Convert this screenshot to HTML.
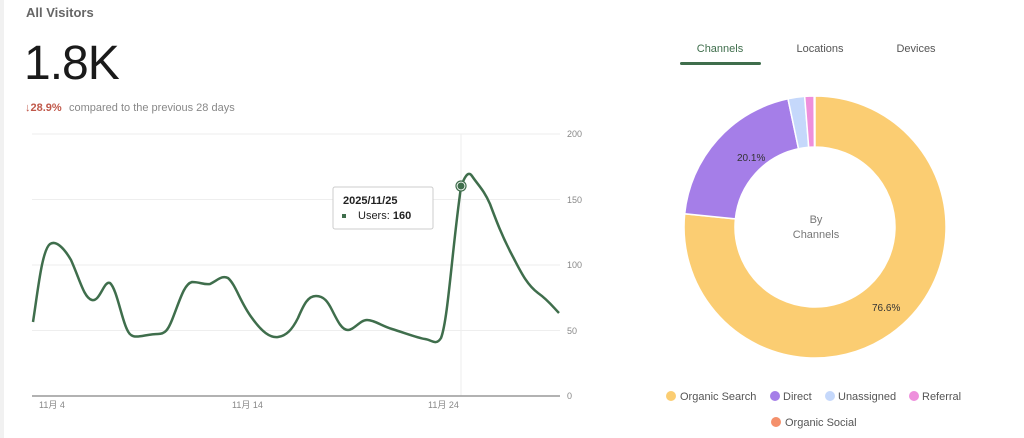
<!DOCTYPE html>
<html><head><meta charset="utf-8"><style>
html,body{margin:0;padding:0;background:#fff;}
body{width:1024px;height:438px;overflow:hidden;position:relative;font-family:"Liberation Sans",Arial,sans-serif;}
</style></head><body>
<svg width="1024" height="438" viewBox="0 0 1024 438" xmlns="http://www.w3.org/2000/svg" style="position:absolute;left:0;top:0;font-family:'Liberation Sans','Noto Sans CJK JP',sans-serif">
<rect x="0" y="0" width="4" height="438" fill="#f1f1f1"/>
<text x="26" y="17" font-size="13" font-weight="bold" fill="#666">All Visitors</text>
<text x="24" y="79" font-size="48" fill="#1a1a1a" letter-spacing="-1">1.8K</text>
<text x="25" y="111" font-size="11" fill="#c0584a" font-weight="bold">↓28.9%</text>
<text x="69" y="111" font-size="11" fill="#888">compared to the previous 28 days</text>
<g stroke="#eeeeee" stroke-width="1">
<line x1="32" y1="134" x2="560" y2="134"/>
<line x1="32" y1="199.5" x2="560" y2="199.5"/>
<line x1="32" y1="265" x2="560" y2="265"/>
<line x1="32" y1="330.5" x2="560" y2="330.5"/>
<line x1="461" y1="134" x2="461" y2="396"/>
</g>
<line x1="32" y1="396" x2="560" y2="396" stroke="#999" stroke-width="1.5"/>
<g font-size="9" fill="#888">
<text x="567" y="137">200</text><text x="567" y="203">150</text><text x="567" y="268">100</text><text x="567" y="334">50</text><text x="567" y="399">0</text>
<text x="39" y="408">11月 4</text><text x="232" y="408">11月 14</text><text x="428" y="408">11月 24</text>
</g>
<path d="M33,322 C38,290 42,250 50,244 C56,240 64,248 71,260 C80,280 84,298 92,300 C100,302 104,280 110,283 C118,290 123,330 131,335 C136,339 146,334 158,334 C165,334 168,330 172,320 C180,300 184,284 192,282 C200,282 204,285 210,284 C218,280 222,275 228,278 C236,285 240,302 252,318 C262,332 270,338 278,337 C286,336 292,330 298,318 C304,304 308,296 316,296 C324,296 328,302 332,310 C338,322 342,330 348,330 C354,330 360,320 367,320 C374,320 382,326 392,329 C405,333 418,338 425,339 C432,340 436,346 441,338 C448,320 452,250 461,187 C464,178 468,170 472,176 C478,185 484,190 490,204 C496,220 502,236 512,255 C520,270 526,284 538,293 C548,300 554,308 559,313" fill="none" stroke="#3f6e4c" stroke-width="2.5" stroke-linejoin="round"/>
<circle cx="461" cy="186" r="5" fill="#fff" stroke="#3f6e4c" stroke-width="1.2"/>
<circle cx="461" cy="186" r="3.5" fill="#3f6e4c"/>
<rect x="333" y="187" width="100" height="42" fill="#fff" stroke="#ccc" stroke-width="1" rx="2"/>
<text x="343" y="204" font-size="11" font-weight="bold" fill="#222">2025/11/25</text>
<rect x="342" y="214" width="4" height="4" fill="#3f6e4c"/>
<text x="358" y="219" font-size="11" fill="#222">Users: <tspan font-weight="bold">160</tspan></text>
<g font-size="11" fill="#555">
<text x="720" y="52" text-anchor="middle" fill="#3f6e4c">Channels</text>
<text x="820" y="52" text-anchor="middle">Locations</text>
<text x="916" y="52" text-anchor="middle">Devices</text>
</g>
<rect x="680" y="62" width="81" height="3" rx="1.5" fill="#3f6e4c"/>
<g stroke="#fff" stroke-width="1.5">
<path d="M815,96 A131,131 0 1 1 684.7,213.8 L735.4,218.9 A80,80 0 1 0 815,147 Z" fill="#fbcd72"/>
<path d="M684.7,213.8 A131,131 0 0 1 788,98.8 L798.5,148.7 A80,80 0 0 0 735.4,218.9 Z" fill="#a57ee8"/>
<path d="M788,98.8 A131,131 0 0 1 804.7,96.4 L808.7,147.2 A80,80 0 0 0 798.5,148.7 Z" fill="#c5d8fb"/>
<path d="M804.7,96.4 A131,131 0 0 1 814.1,96 L814.4,147 A80,80 0 0 0 808.7,147.2 Z" fill="#ee8fdc"/>
</g>
<text x="737" y="161" font-size="10" fill="#333">20.1%</text>
<text x="872" y="311" font-size="10" fill="#333">76.6%</text>
<text x="816" y="223" font-size="11" fill="#777" text-anchor="middle">By</text>
<text x="816" y="238" font-size="11" fill="#777" text-anchor="middle">Channels</text>
<g font-size="11" fill="#555">
<circle cx="671" cy="396" r="5" fill="#fbcd72"/><text x="680" y="400">Organic Search</text>
<circle cx="775" cy="396" r="5" fill="#a57ee8"/><text x="783" y="400">Direct</text>
<circle cx="830" cy="396" r="5" fill="#c5d8fb"/><text x="838" y="400">Unassigned</text>
<circle cx="914" cy="396" r="5" fill="#ee8fdc"/><text x="922" y="400">Referral</text>
<circle cx="776" cy="422" r="5" fill="#f4906b"/><text x="785" y="426">Organic Social</text>
</g>
</svg>
</body></html>
